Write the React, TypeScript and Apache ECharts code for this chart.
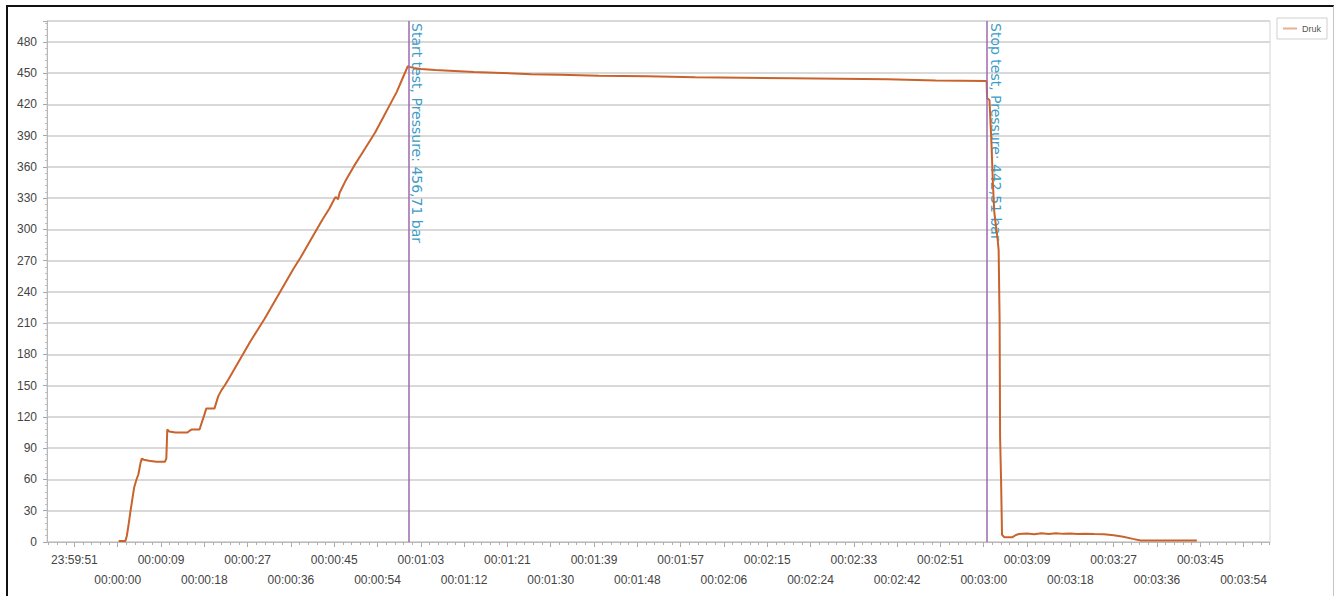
import React, { useEffect, useRef } from "react";
import * as echarts from "echarts";

// time in seconds relative to 00:00:00 (negative = previous day)
const times: number[] = [
  0.2, 1.6, 1.9, 2.3, 2.6, 3.0, 3.4, 3.9, 4.3, 4.7, 5.0, 5.4, 6.5, 8.0, 9.8, 10.1, 10.3, 10.7, 12.0, 14.5,
  15.0, 15.4, 17.0, 17.5, 18.0, 18.4, 19.0, 20.1, 20.5, 20.9, 21.6, 22.2, 23.0, 24.5, 26.0, 27.5, 29.0,
  30.5, 32.0, 33.5, 35.0, 36.5, 38.0, 39.5, 41.0, 42.5, 44.0, 45.0, 45.3, 45.8, 46.1, 47.5, 49.0, 50.5,
  52.0, 53.5, 55.0, 56.5, 58.0, 59.3, 60.3, 60.6, 61.5, 63, 66, 70, 74, 80, 86, 92, 100, 110, 120, 130,
  140, 150, 160, 170, 180.6, 180.7, 181.2, 181.6, 181.9, 182.2, 182.9, 183.1, 183.3, 183.4, 183.6,
  183.7, 183.8, 184.3, 185.9, 186.6, 187.3, 189, 190.5, 192, 193.5, 195, 196.5, 198, 199.5, 201, 203,
  205, 207, 209, 211, 212.6, 218, 224.3,
];
const pressure: number[] = [
  1, 1, 6, 18, 28, 40, 52, 60, 65, 75, 80, 79, 78, 77, 77, 80, 108, 106, 105, 105,
  107, 108, 108, 115, 122, 128, 128, 128, 134, 140, 146, 150, 156, 168, 180, 192, 203,
  214, 226, 238, 250, 262, 273, 285, 297, 309, 320, 329, 331, 329, 335, 348, 360, 371,
  382, 393, 406, 419, 432, 446, 456.7, 456, 455, 454, 453, 452, 451, 450, 449, 448.5, 447.5, 447, 446, 445.5,
  445, 444.5, 444, 443, 442.5, 426, 424, 383, 345, 316, 290, 280, 213, 101, 60,
  34, 7, 4.5, 4.5, 6.5, 7.7, 8.2, 7.5, 8.3, 7.6, 8.3, 7.8, 8.2, 7.7, 7.8, 7.6,
  7.5, 6.5, 5, 3, 1.5, 1.5, 1.5,
];

// tick labels (seconds from 00:00:00): upper row and lower row alternate
const xLabelsUpper: number[] = [-9, 9, 27, 45, 63, 81, 99, 117, 135, 153, 171, 189, 207, 225];
const xLabelsLower: number[] = [0, 18, 36, 54, 72, 90, 108, 126, 144, 162, 180, 198, 216, 234];
const yTickLabels: number[] = [0, 30, 60, 90, 120, 150, 180, 210, 240, 270, 300, 330, 360, 390, 420, 450, 480];

const SERIES_NAME = "Druk";
const START_T = 60.4;
const STOP_T = 180.6;
const START_LABEL = "Start test, Pressure: 456,71 bar";
const STOP_LABEL = "Stop test, Pressure: 442,51 bar";

const X_MIN = -14.7;
const X_MAX = 239.5;

function fmtTime(v: number): string {
  let s = Math.round(v);
  s = ((s % 86400) + 86400) % 86400;
  const h = Math.floor(s / 3600);
  const m = Math.floor((s % 3600) / 60);
  const sec = s % 60;
  const p = (n: number) => (n < 10 ? "0" : "") + n;
  return `${p(h)}:${p(m)}:${p(sec)}`;
}

const majorTickValues: number[] = xLabelsUpper.concat(xLabelsLower).sort((a, b) => a - b);
const minorTickValues: number[] = [];
for (let i = -8; i <= 133; i++) minorTickValues.push(Math.round(i * 1.8 * 10) / 10);

export default function App() {
  const ref = useRef<HTMLDivElement>(null);
  useEffect(() => {
    if (!ref.current) return;
    const chart = echarts.init(ref.current, null, { renderer: "svg" });
    const data = times.map((t, i) => [t, pressure[i]]);
    const font = "Liberation Sans";
    const labelBase = {
      showMinLabel: true,
      showMaxLabel: true,
      hideOverlap: false,
      fontSize: 12,
      color: "#444",
      fontFamily: font,
      formatter: (v: number) => fmtTime(v),
    };
    chart.setOption({
      animation: false,
      textStyle: { fontFamily: font },
      grid: {
        left: 47,
        right: 68,
        top: 21,
        bottom: 54,
        show: true,
        borderColor: "#d4d4d4",
        borderWidth: 1,
        containLabel: false,
      },
      legend: {
        show: true,
        right: 11,
        top: 18,
        orient: "vertical",
        padding: [6, 6],
        borderColor: "#cfcfcf",
        borderWidth: 1,
        itemWidth: 14,
        itemHeight: 2,
        icon: "rect",
        itemStyle: { opacity: 0.5 },
        textStyle: { fontSize: 9, color: "#555", fontFamily: font },
        data: [SERIES_NAME],
      },
      xAxis: [
        {
          type: "value",
          min: X_MIN,
          max: X_MAX,
          splitLine: { show: false },
          axisLine: { show: true, onZero: false, lineStyle: { color: "#b8b8b8", width: 1 } },
          axisTick: {
            show: true,
            length: 5,
            customValues: majorTickValues,
            lineStyle: { color: "#a8a8a8" },
          },
          axisLabel: { ...labelBase, customValues: xLabelsUpper, margin: 12 },
        },
        {
          type: "value",
          min: X_MIN,
          max: X_MAX,
          position: "bottom",
          splitLine: { show: false },
          axisLine: { show: false, onZero: false },
          axisTick: {
            show: true,
            length: 3,
            customValues: minorTickValues,
            lineStyle: { color: "#b0b0b0" },
          },
          axisLabel: { ...labelBase, customValues: xLabelsLower, margin: 32 },
        },
      ],
      yAxis: {
        type: "value",
        min: 0,
        max: 500,
        interval: 30,
        axisLine: { show: true, onZero: false, lineStyle: { color: "#b8b8b8", width: 1 } },
        axisTick: { show: true, length: 4, lineStyle: { color: "#a8a8a8" } },
        minorTick: { show: true, splitNumber: 5, length: 2, lineStyle: { color: "#c0c0c0" } },
        splitLine: { show: true, lineStyle: { color: "#d9d9d9", width: 2 } },
        axisLabel: {
          fontSize: 12,
          color: "#444",
          margin: 10,
          fontFamily: font,
          showMaxLabel: false,
          formatter: (v: number) => (yTickLabels.indexOf(v) >= 0 ? String(v) : ""),
        },
      },
      series: [
        {
          name: SERIES_NAME,
          type: "line",
          data,
          showSymbol: false,
          symbol: "none",
          color: "#c9632b",
          lineStyle: { color: "#c9632b", width: 2 },
          markLine: {
            silent: true,
            symbol: "none",
            label: { show: false },
            lineStyle: { color: "#9c6aae", width: 1.5, type: "solid" },
            data: [{ xAxis: START_T }, { xAxis: STOP_T }],
          },
        },
      ],
    });
    const px1 = chart.convertToPixel({ xAxisIndex: 0 }, START_T) as number;
    const px2 = chart.convertToPixel({ xAxisIndex: 0 }, STOP_T) as number;
    const mkText = (x: number, text: string) => ({
      type: "text",
      x: x + 2,
      y: 23,
      rotation: -Math.PI / 2,
      silent: true,
      style: {
        text,
        fill: "#3f9cc6",
        fontSize: 14,
        fontFamily: "DejaVu Sans",
        align: "left",
        verticalAlign: "bottom",
      },
    });
    chart.setOption({ graphic: [mkText(px1, START_LABEL), mkText(px2, STOP_LABEL)] });
    return () => chart.dispose();
  }, []);
  return (
    <div style={{ position: "fixed", left: 0, top: 0, width: 1338, height: 596, background: "#fff", overflow: "hidden" }}>
      <div
        style={{
          position: "absolute",
          left: 6,
          top: 5,
          width: 1328,
          height: 620,
          borderTop: "2px solid #111",
          borderLeft: "2px solid #111",
          borderRight: "1px solid #c4c4c4",
          boxSizing: "border-box",
        }}
      />
      <div ref={ref} style={{ position: "absolute", left: 0, top: 0, width: 1338, height: 596 }} />
    </div>
  );
}
